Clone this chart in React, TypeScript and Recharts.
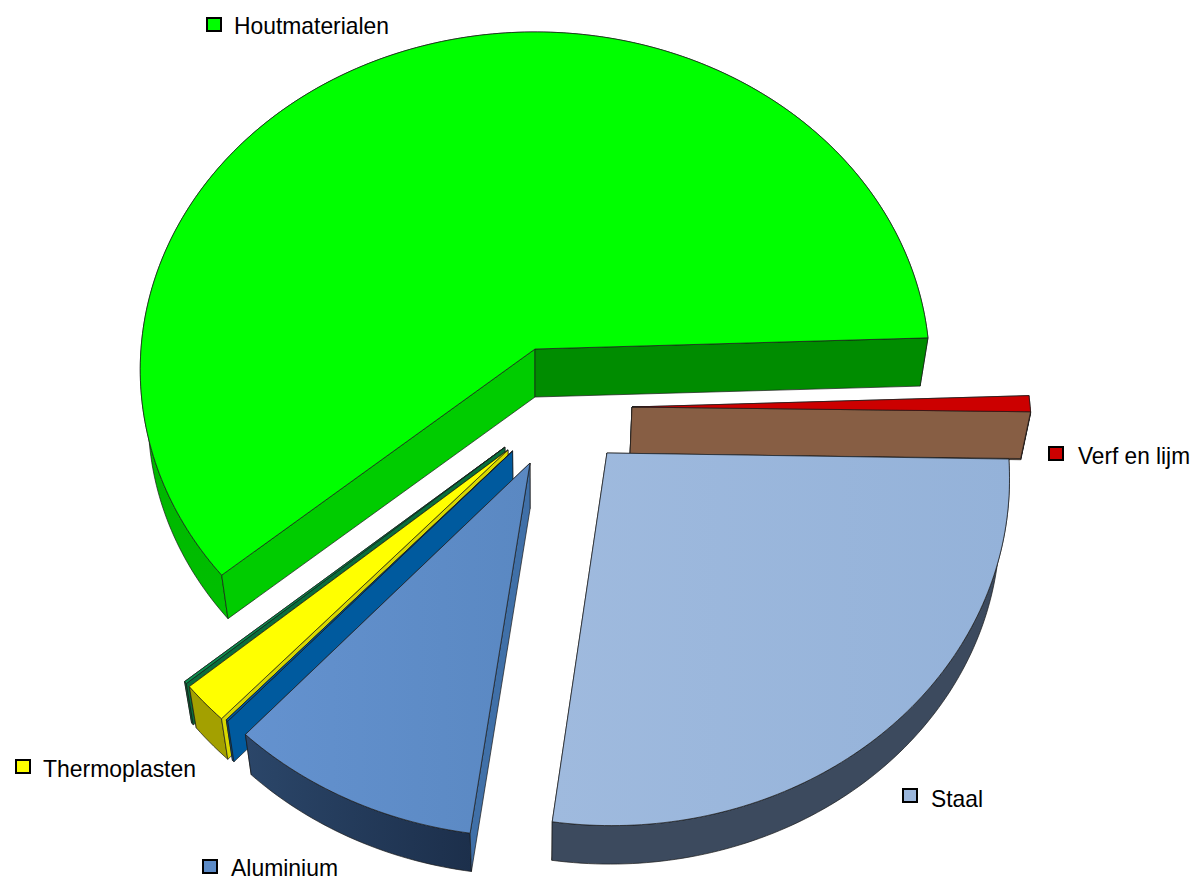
import { Pie, PieChart } from "recharts";

// Slices in drawing order (counter-clockwise, starting just below east), back to front.
const SLICE_NAMES = ["Kit", "Verf en lijm", "Houtmaterialen", "Rubber", "Thermoplasten", "Koper", "Aluminium", "Staal"];
const SLICE_VALUES = [0.056, 0.75, 60.64, 0.11, 1.86, 0.083, 9.56, 26.94];

// Style per slice: top face, outer wall, wall at start angle, wall at end angle.
const TOP_FILLS = ["#875e44", "#cc0000", "#00ff00", "#0d8f4f", "#ffff00", "#005a9e", "url(#aluTop)", "url(#staalTop)"];
const OUTER_FILLS = ["#875e44", "#8c0000", "url(#houtOuter)", "#0a6e3c", "#a3a000", "#005a9e", "url(#aluOuter)", "#3c4a5e"];
const START_WALLS = ["#875e44", "#875e44", "#008c00", "#0a6e3c", "#a3a000", "#005a9e", "#4070a8", "#3c4a5e"];
const END_WALLS = ["#875e44", "#875e44", "#00cc00", "#0a6e3c", "#d8d800", "#005a9e", "#4070a8", "#3c4a5e"];
const SWATCHES = ["#875e44", "#cc0000", "#00ff00", "#0d8f4f", "#ffff00", "#005a9e", "#5b8ac6", "#9ab6dc"];

// Explosion of each slice on the table plane, in pie units (right, towards viewer).
const EXPLODE_U = [96, 96, 0, -29.5, -26.5, -22, -4.9, 70.6];
const EXPLODE_V = [67.2, 67.2, 0, 112.8, 116, 117.2, 130.8, 119.5];

// Label placement: swatch x/y, text x, baseline, text width. Unlabelled slices are absent.
const LABELS: Record<string, [number, number, number, number, number]> = {
  Houtmaterialen: [207, 18, 234, 34, 155],
  "Verf en lijm": [1049, 447, 1078, 464, 112],
  Staal: [903, 789, 931, 807, 52],
  Aluminium: [203, 860, 231, 876, 107],
  Thermoplasten: [16, 760, 43, 777, 153],
};

const R = 394;
const TILT = 0.854; // vertical squash of the table plane
const PERSPECTIVE = 0.0613;
const VANISH_X = 535;
const VANISH_Y = 2750;
const DEPTH = 0.02; // how far the underside shrinks to the vanishing point

const data = SLICE_NAMES.map((name, i) => ({ name, value: SLICE_VALUES[i] }));

const cosDeg = (deg: number) => Math.cos((deg * Math.PI) / 180);

function SliceShape(props: any) {
  const { cx, cy, startAngle, endAngle, outerRadius } = props;
  const name = props.name ?? props.payload?.name;
  const i = SLICE_NAMES.indexOf(name);
  const project = (r: number, deg: number, bottom: boolean) => {
    const a = (deg * Math.PI) / 180;
    const u = r * Math.cos(a) + EXPLODE_U[i];
    const v = -r * Math.sin(a) + EXPLODE_V[i];
    const s = 1 / (1 - (PERSPECTIVE * v) / R);
    let x = cx + u * s;
    let y = cy + TILT * v * s;
    if (bottom) {
      x += (VANISH_X - x) * DEPTH;
      y += (VANISH_Y - y) * DEPTH;
    }
    return `${x.toFixed(2)} ${y.toFixed(2)}`;
  };
  const steps = Math.max(2, Math.ceil(Math.abs(endAngle - startAngle)));
  const angles = Array.from({ length: steps + 1 }, (_, k) => startAngle + ((endAngle - startAngle) * k) / steps);
  const arcTop = angles.map((d) => project(outerRadius, d, false));
  const arcBottom = angles.map((d) => project(outerRadius, d, true));
  const apexTop = project(0, 0, false);
  const apexBottom = project(0, 0, true);
  const stroke = { stroke: "#1a1a1a", strokeWidth: 0.7, strokeLinejoin: "round" as const };
  const startWall = <path d={`M${apexTop} L${arcTop[0]} L${arcBottom[0]} L${apexBottom} Z`} fill={START_WALLS[i]} {...stroke} />;
  const endWall = <path d={`M${apexTop} L${arcTop[steps]} L${arcBottom[steps]} L${apexBottom} Z`} fill={END_WALLS[i]} {...stroke} />;
  // a radial wall only goes over the outer wall when it faces the viewer
  const startFront = cosDeg(startAngle) > 0;
  const endFront = cosDeg(endAngle) < 0;
  return (
    <g>
      {!startFront && startWall}
      {!endFront && endWall}
      <path d={`M${arcTop.join(" L")} L${[...arcBottom].reverse().join(" L")} Z`} fill={OUTER_FILLS[i]} {...stroke} />
      {endFront && endWall}
      {startFront && startWall}
      <path d={`M${apexTop} L${arcTop.join(" L")} Z`} fill={TOP_FILLS[i]} {...stroke} />
    </g>
  );
}

function SliceLabel(props: any) {
  const name = props.name ?? props.payload?.name;
  const spot = LABELS[name];
  if (!spot) return null;
  const [sx, sy, tx, ty, tw] = spot;
  return (
    <g>
      <rect x={sx} y={sy} width={14} height={13} fill={SWATCHES[SLICE_NAMES.indexOf(name)]} stroke="#000" strokeWidth={2} />
      <text x={tx} y={ty} fontFamily="'Liberation Sans', Arial, sans-serif" fontSize={24} fill="#000" textLength={tw} lengthAdjust="spacingAndGlyphs">
        {name}
      </text>
    </g>
  );
}

export default function App() {
  return (
    <div style={{ position: "absolute", left: 0, top: 0, width: 1196, height: 881 }}>
      <PieChart width={1196} height={881} margin={{ top: 0, right: 0, bottom: 0, left: 0 }}>
        <defs>
          <linearGradient id="staalTop" x1="0" y1="0" x2="1" y2="0">
            <stop offset="0" stopColor="#9fbade" />
            <stop offset="1" stopColor="#94b2d9" />
          </linearGradient>
          <linearGradient id="aluTop" x1="0" y1="0" x2="1" y2="0">
            <stop offset="0" stopColor="#6492cf" />
            <stop offset="1" stopColor="#5a88c2" />
          </linearGradient>
          <linearGradient id="aluOuter" x1="0" y1="0" x2="1" y2="0">
            <stop offset="0" stopColor="#2b4669" />
            <stop offset="1" stopColor="#1c2f4b" />
          </linearGradient>
          <linearGradient id="houtOuter" x1="0" y1="0" x2="0" y2="1">
            <stop offset="0" stopColor="#009a00" />
            <stop offset="1" stopColor="#00c000" />
          </linearGradient>
        </defs>
        <Pie
          data={data}
          dataKey="value"
          nameKey="name"
          cx={535}
          cy={349}
          outerRadius={R}
          startAngle={-1}
          endAngle={359}
          paddingAngle={0}
          stroke="none"
          isAnimationActive={false}
          shape={SliceShape}
          label={SliceLabel}
          labelLine={false}
        />
      </PieChart>
    </div>
  );
}
